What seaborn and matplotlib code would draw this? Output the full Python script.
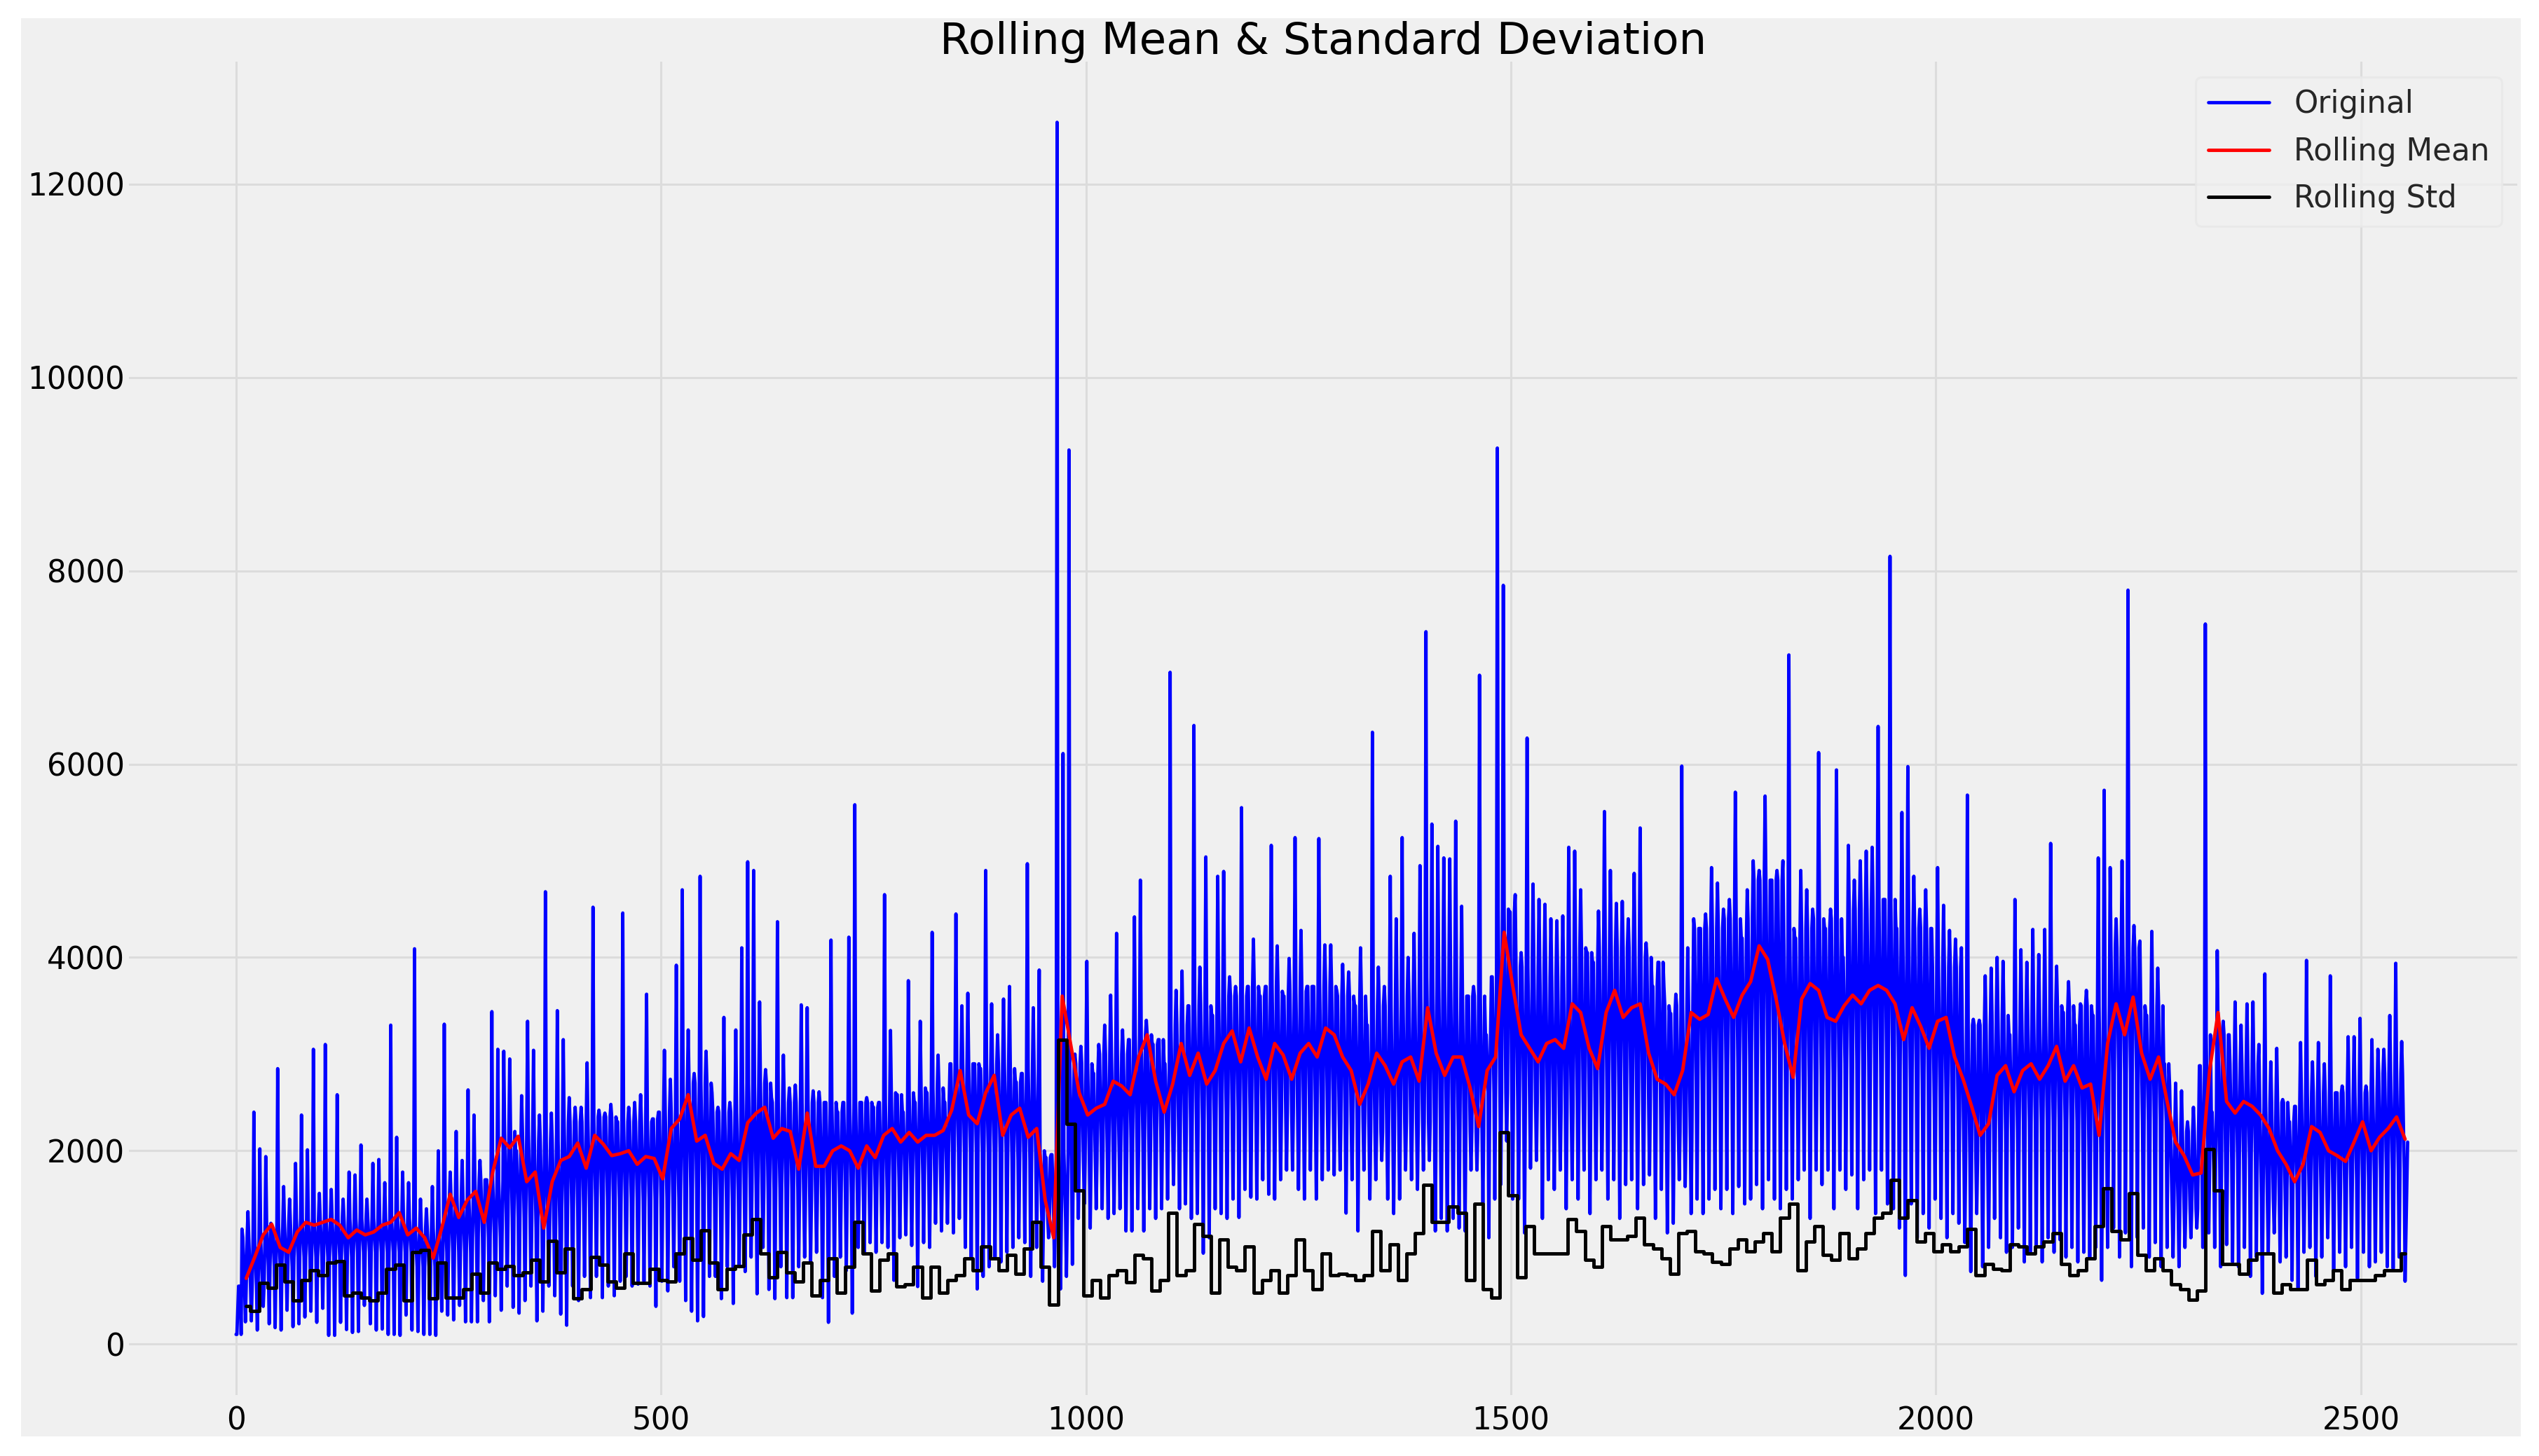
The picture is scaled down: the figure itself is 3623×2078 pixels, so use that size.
import numpy as np
import pandas as pd
import matplotlib
matplotlib.use("Agg")
import matplotlib.pyplot as plt
from matplotlib.patches import Rectangle
import seaborn as sns

# weekly highs of the original series
weekly_high = [
    100, 1190, 1370, 2400, 2020, 1940, 1200, 2850, 1630, 1500,
    1870, 2370, 2010, 3050, 1560, 3100, 1600, 2580, 1500, 1780,
    1750, 2060, 1500, 1870, 1910, 1670, 3300, 2140, 1780, 1670,
    4090, 1500, 1400, 1630, 2000, 3310, 1780, 2200, 1900, 2630,
    2370, 1900, 1700, 3440, 3050, 3030, 2950, 2000, 2570, 3340,
    3040, 2370, 4680, 2390, 3450, 3150, 2550, 2450, 2450, 2910,
    4520, 2420, 2390, 2480, 2300, 4460, 2450, 2500, 2580, 3620,
    2330, 2400, 3040, 2740, 3920, 4700, 3250, 2800, 4840, 3030,
    2600, 2450, 3380, 2500, 3250, 4100, 4990, 4900, 3540, 2840,
    2550, 4370, 2990, 2650, 2680, 3510, 3480, 2620, 2610, 2500,
    4180, 2400, 2500, 4210, 5580, 2500, 2550, 2450, 2500, 4650,
    3245, 2580, 2400, 3760, 2500, 3340, 2600, 4260, 2990, 2500,
    2900, 4450, 3500, 3630, 2900, 2850, 4900, 3520, 3200, 3570,
    3700, 2710, 2800, 4970, 3480, 3870, 1930, 1960, 12640, 6110,
    9250, 3000, 3080, 3960, 2800, 3100, 3300, 3610, 4250, 3250,
    3150, 4420, 4800, 3350, 3100, 3150, 2900, 6950, 3660, 3860,
    3500, 6400, 3900, 5040, 3400, 4840, 4890, 3800, 3700, 5550,
    3700, 4190, 3600, 3700, 5160, 4120, 3600, 3990, 5240, 4280,
    3700, 3700, 5230, 4130, 4130, 3660, 3930, 3850, 3500, 4100,
    3300, 6330, 3900, 3700, 4840, 4400, 5240, 4000, 4250, 4950,
    7370, 5380, 5150, 5030, 5020, 5410, 4530, 3600, 3700, 6920,
    3200, 3800, 9270, 7850, 4470, 4650, 4050, 6270, 4760, 4600,
    4550, 4400, 4380, 4430, 5140, 5100, 4700, 4050, 3950, 4480,
    5510, 4900, 4560, 4580, 4400, 4870, 5340, 4150, 3700, 3950,
    3700, 3420, 3620, 5980, 4100, 4400, 4300, 4450, 4930, 4770,
    4500, 4600, 5710, 4200, 4700, 5000, 4900, 5670, 4800, 4900,
    5000, 7130, 4200, 4900, 4700, 4500, 6120, 4300, 4500, 5940,
    4000, 5160, 4800, 5000, 5100, 5140, 6390, 4600, 8150, 4300,
    5500, 5975, 4840, 4500, 4700, 4300, 4930, 4540, 4280, 4190,
    4100, 5680, 3360, 3350, 3810, 3890, 4000, 3960, 3200, 4600,
    4080, 3950, 4290, 4030, 4290, 5180, 3910, 3430, 3750, 3300,
    3520, 3660, 3400, 5030, 5730, 4930, 4400, 5000, 7800, 4330,
    4170, 3400, 4270, 3890, 2900, 2670, 2700, 2620, 2300, 2450,
    2880, 7450, 2400, 4070, 3340, 3200, 3540, 3300, 3520, 3540,
    3100, 3830, 2920, 3060, 2530, 2300, 2460, 3120, 3970, 2920,
    3120, 2900, 3810, 2600, 2670, 3180, 3180, 3370, 2670, 3150,
    3050, 3050, 3400, 3940, 3130, 2090,
]

# weekly lows of the original series
weekly_low = [
    300, 230, 240, 145, 390, 210, 170, 145, 350, 180,
    210, 280, 340, 225, 370, 90, 90, 225, 150, 120,
    130, 400, 210, 145, 155, 100, 100, 90, 300, 145,
    130, 100, 100, 90, 340, 300, 250, 400, 230, 230,
    230, 450, 230, 500, 350, 600, 380, 320, 450, 600,
    240, 340, 600, 500, 310, 195, 600, 450, 700, 480,
    700, 480, 600, 500, 650, 700, 600, 620, 650, 600,
    390, 650, 550, 800, 650, 450, 340, 240, 285, 700,
    700, 470, 800, 420, 800, 750, 900, 520, 1000, 565,
    470, 800, 480, 480, 800, 900, 850, 950, 480, 225,
    700, 900, 760, 320, 1000, 950, 1050, 950, 1050, 1000,
    660, 1100, 1130, 1020, 595, 1050, 1000, 1250, 1170, 1250,
    1150, 1300, 1000, 900, 570, 700, 800, 900, 850, 950,
    1000, 1100, 1050, 700, 1000, 650, 1100, 800, 570, 700,
    825, 1300, 1450, 1200, 1400, 1400, 1300, 1350, 1400, 1170,
    1170, 1400, 1170, 1400, 1300, 1400, 1500, 1650, 1400, 1450,
    1300, 1350, 940, 1100, 1400, 1350, 1300, 1500, 1310, 1600,
    1520, 1500, 1700, 1550, 1500, 1700, 1800, 1800, 1600, 1500,
    1800, 1500, 1700, 1800, 1750, 1800, 1355, 1700, 1170, 1800,
    1500, 1700, 1900, 1500, 1350, 1500, 1800, 1700, 1600, 1800,
    1900, 1170, 1300, 1170, 1300, 1200, 1170, 1800, 1800, 1450,
    1100, 1500, 1650, 2100, 1500, 1500, 1150, 1820, 1900, 1300,
    1700, 1600, 1800, 1400, 1700, 1500, 1800, 1350, 1700, 1800,
    1500, 1700, 1300, 1650, 1700, 1400, 1650, 1750, 1300, 1600,
    1150, 1250, 1700, 1630, 1350, 1500, 1350, 1500, 1600, 1400,
    1600, 1350, 1630, 1450, 1500, 1650, 1400, 1700, 1500, 1400,
    1600, 1500, 1700, 1800, 1300, 1800, 1650, 1800, 1400, 1800,
    1600, 1750, 1400, 1700, 1800, 1350, 1800, 1450, 1400, 1200,
    710, 1450, 1100, 1350, 1200, 1500, 1300, 1100, 1350, 1250,
    1050, 750, 1350, 800, 1000, 1300, 1100, 950, 1000, 1200,
    850, 950, 1000, 850, 1100, 950, 1080, 900, 1000, 850,
    950, 900, 1000, 660, 1000, 1200, 900, 1150, 800, 1100,
    1200, 900, 1050, 800, 1000, 900, 800, 1000, 1100, 1200,
    1000, 1150, 1000, 800, 1030, 850, 800, 1000, 700, 900,
    525, 950, 1150, 850, 900, 660, 570, 950, 1000, 700,
    900, 1100, 750, 950, 800, 1000, 680, 950, 800, 850,
    950, 800, 780, 900, 650,
]

# top and bottom of the solid part of the blue band, one reading per 35 days
band_top = [
    1100, 1250, 1300, 1300, 1300, 1300, 1200, 1500, 1700, 2200,
    2100, 2300, 2350, 2300, 2400, 2700, 2400, 2700, 2500, 2500,
    2500, 2500, 2600, 2650, 2900, 2900, 2850, 2000, 2900, 3000,
    3200, 3300, 3500, 3600, 3700, 3650, 3700, 3600, 3500, 3600,
    3800, 3600, 4500, 3900, 3800, 4100, 4100, 4000, 3500, 4300,
    4400, 4800, 4300, 4400, 4500, 4600, 4300, 3900, 3300, 3400,
    3400, 3500, 3500, 4100, 3500, 2200, 3200, 2900, 2500, 2600,
    2600, 2600, 2800,
]
band_bottom = [
    600, 800, 900, 900, 950, 950, 800, 950, 1100, 1300,
    1200, 1400, 1500, 1500, 1500, 1600, 1500, 1600, 1600, 1500,
    1550, 1600, 1700, 1750, 2000, 2000, 1900, 1300, 1900, 2000,
    2100, 2200, 2300, 2400, 2400, 2400, 2400, 2300, 2200, 2300,
    2300, 2200, 2600, 2500, 2400, 2500, 2600, 2500, 2200, 2700,
    2900, 3000, 2700, 2800, 2900, 2900, 2700, 2500, 1900, 2200,
    2300, 2300, 2000, 2800, 2300, 1400, 1800, 1900, 1500, 1600,
    1600, 1700, 1800,
]

# rolling mean, one reading every 10 days from day 12
rolling_mean = [
    680, 900, 1130, 1240, 1000, 950, 1160, 1260, 1230, 1260,
    1290, 1230, 1100, 1180, 1130, 1160, 1230, 1260, 1360, 1130,
    1200, 1100, 890, 1200, 1550, 1310, 1490, 1580, 1260, 1780,
    2130, 2030, 2150, 1680, 1780, 1200, 1680, 1900, 1940, 2080,
    1820, 2160, 2070, 1950, 1970, 2000, 1860, 1940, 1920, 1710,
    2230, 2330, 2580, 2100, 2160, 1870, 1810, 1970, 1900, 2290,
    2390, 2450, 2130, 2230, 2200, 1810, 2390, 1840, 1840, 2000,
    2050, 2000, 1820, 2050, 1930, 2160, 2230, 2090, 2190, 2090,
    2160, 2160, 2210, 2420, 2830, 2370, 2280, 2600, 2780, 2160,
    2370, 2440, 2140, 2230, 1490, 1100, 3600, 3100, 2600, 2370,
    2440, 2480, 2720, 2670, 2580, 2970, 3200, 2720, 2400, 2690,
    3110, 2780, 3010, 2690, 2830, 3110, 3240, 2920, 3270, 2970,
    2740, 3110, 2990, 2740, 3010, 3110, 2970, 3270, 3200, 2970,
    2830, 2480, 2690, 3010, 2880, 2690, 2920, 2970, 2720, 3480,
    3010, 2780, 2970, 2970, 2650, 2250, 2830, 2970, 4260, 3710,
    3200, 3060, 2920, 3110, 3150, 3060, 3520, 3430, 3060, 2850,
    3430, 3660, 3380, 3480, 3520, 3010, 2740, 2690, 2580, 2830,
    3430, 3360, 3410, 3780, 3570, 3380, 3610, 3750, 4120, 3980,
    3570, 3110, 2760, 3570, 3730, 3660, 3380, 3340, 3500, 3610,
    3520, 3660, 3710, 3660, 3520, 3150, 3480, 3290, 3060, 3340,
    3380, 2970, 2740, 2460, 2160, 2280, 2780, 2880, 2610, 2830,
    2900, 2740, 2880, 3080, 2720, 2880, 2650, 2690, 2160, 3110,
    3520, 3200, 3590, 3010, 2740, 2970, 2510, 2090, 1950, 1750,
    1770, 2830, 3430, 2510, 2390, 2510, 2460, 2370, 2230, 2000,
    1860, 1680, 1860, 2250, 2190, 2000, 1950, 1890, 2090, 2300,
    2000, 2140, 2230, 2350, 2120,
]

# rolling std, same days as the rolling mean
rolling_std = [
    390, 340, 630, 580, 820, 650, 450, 660, 760, 710,
    840, 860, 500, 530, 480, 450, 530, 780, 820, 450,
    950, 970, 470, 840, 480, 480, 570, 730, 530, 840,
    780, 810, 710, 740, 870, 650, 1070, 740, 990, 470,
    570, 900, 820, 650, 580, 940, 630, 630, 780, 660,
    650, 940, 1100, 870, 1180, 840, 570, 780, 810, 1130,
    1290, 940, 690, 950, 740, 650, 840, 500, 660, 890,
    530, 800, 1260, 940, 550, 870, 940, 600, 620, 800,
    480, 800, 530, 660, 710, 890, 760, 1010, 890, 760,
    920, 730, 990, 1260, 800, 410, 3150, 2280, 1590, 500,
    660, 480, 710, 760, 640, 920, 890, 550, 660, 1360,
    710, 760, 1240, 1120, 530, 1080, 800, 760, 1010, 530,
    660, 760, 530, 710, 1080, 760, 570, 940, 710, 730,
    710, 660, 710, 1170, 760, 1030, 660, 940, 1150, 1650,
    1260, 1260, 1420, 1360, 660, 1450, 570, 480, 2190, 1540,
    690, 1220, 940, 940, 940, 940, 1290, 1170, 870, 800,
    1220, 1080, 1080, 1120, 1310, 1030, 990, 890, 730, 1150,
    1170, 960, 940, 850, 830, 990, 1080, 960, 1060, 1150,
    960, 1310, 1450, 760, 1060, 1220, 920, 870, 1150, 890,
    990, 1150, 1310, 1360, 1700, 1310, 1490, 1060, 1150, 960,
    1030, 960, 1010, 1190, 710, 830, 780, 760, 1030, 1010,
    940, 1010, 1060, 1150, 830, 710, 760, 890, 1220, 1610,
    1170, 1080, 1560, 920, 760, 890, 760, 620, 570, 460,
    550, 2020, 1590, 830, 830, 730, 870, 940, 940, 530,
    620, 570, 570, 870, 620, 660, 760, 570, 660, 660,
    660, 710, 760, 760, 940,
]

y_ticks = [0, 2000, 4000, 6000, 8000, 10000, 12000]
x_ticks = [0, 500, 1000, 1500, 2000, 2500]

W, H = 3623, 2078
DPI = 220

sns.set_style("whitegrid")
plt.rcParams["font.family"] = ["DejaVu Sans"]
plt.rcParams["font.size"] = 14.3

# each week: narrow high spike, the solid band, narrow low spike, the band again
highs = np.array(weekly_high)
lows = np.array(weekly_low)
n = len(lows)
weeks = np.arange(n) * 7
tops = np.minimum(np.repeat(band_top, 5)[:n], highs[:n])
bottoms = np.maximum(np.repeat(band_bottom, 5)[:n], lows)

orig = pd.DataFrame({
    "day": np.concatenate([np.arange(n + 1) * 7, weeks + 1, weeks + 3, weeks + 4, weeks + 5, weeks + 6]),
    "value": np.concatenate([highs, tops, bottoms, lows, bottoms, tops]),
}).sort_values("day")
# series ends on a straight climb from the last low
last_low_day = weeks[-1] + 4
orig = orig[(orig["day"] <= last_low_day) | (orig["day"] == n * 7)]

roll_days = np.arange(len(rolling_mean)) * 10 + 12
roll = pd.DataFrame({"day": roll_days, "mean": rolling_mean, "std": rolling_std})

fig = plt.figure(figsize=(W / DPI, H / DPI), dpi=DPI, facecolor="white")

# grey panel inside the white margin
fig.add_artist(Rectangle((30 / W, 1 - 2050 / H), (3597 - 30) / W, (2050 - 26) / H,
                         transform=fig.transFigure, facecolor="#f0f0f0",
                         edgecolor="none", zorder=-5))

ax = fig.add_axes([184 / W, 1 - 1991 / H, (3592 - 184) / W, (1991 - 88) / H])
ax.set_facecolor("#f0f0f0")

sns.lineplot(data=orig, x="day", y="value", color="blue", label="Original",
             linewidth=1.55, estimator=None, errorbar=None, ax=ax)
sns.lineplot(data=roll, x="day", y="mean", color="red", label="Rolling Mean",
             linewidth=1.6, estimator=None, errorbar=None, ax=ax)
# the std stays flat for stretches, then jumps
sns.lineplot(data=roll, x="day", y="std", color="black", label="Rolling Std",
             linewidth=1.6, estimator=None, errorbar=None, drawstyle="steps-mid", ax=ax)

ax.set_xlim(-126, 2684)
ax.set_ylim(-527, 13267)
ax.set_xticks(x_ticks)
ax.set_yticks(y_ticks)
ax.set_xlabel("")
ax.set_ylabel("")
ax.tick_params(length=0, labelsize=14.3, colors="black")
ax.tick_params(axis="y", pad=2)
ax.tick_params(axis="x", pad=5)
ax.grid(True, color="#dcdcdc", linewidth=1)
ax.set_axisbelow(True)
for s in ax.spines.values():
    s.set_visible(False)

ax.legend(loc="upper right", fontsize=14.3, framealpha=0.8, facecolor="#f0f0f0",
          edgecolor="#e8e8e8", labelspacing=0.56)
ax.set_title("Rolling Mean & Standard Deviation", fontsize=20.5, color="black", pad=3.5)

fig.savefig("out.png", dpi=DPI, facecolor="white")
